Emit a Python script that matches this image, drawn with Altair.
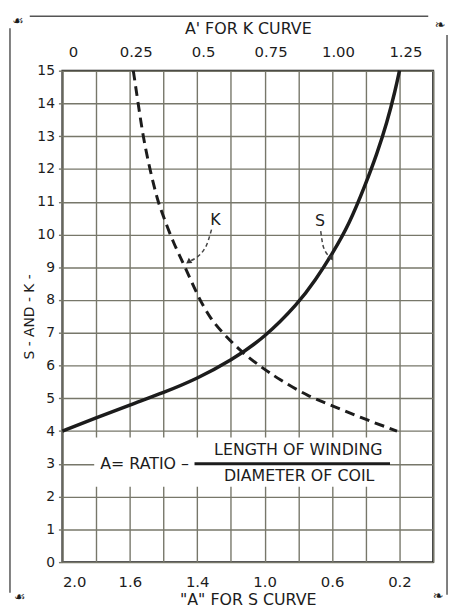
import altair as alt
import pandas as pd

# ---- axes -------------------------------------------------------------
x_max = 1.375                       # right edge of grid (top-axis units)
grid_vals = [0, 0.125, 0.25, 0.375, 0.5, 0.625, 0.75, 0.875, 1.0, 1.125, 1.25, 1.375]
top_ticks = [0, 0.25, 0.5, 0.75, 1.0, 1.25]
top_labels = ["0", "0.25", "0.5", "0.75", "1.00", "1.25"]
bottom_labels = ["2.0", "1.6", "1.4", "1.0", "0.6", "0.2"]
y_ticks = [0, 1, 2, 3, 4, 5, 6, 7, 8, 9, 10, 11, 12, 13, 14, 15]

# ---- S curve (solid) : position on shared grid, value ----------------
s_x = [0, 0.125, 0.25, 0.375, 0.5, 0.625, 0.75, 0.875, 0.938, 1.0, 1.063, 1.125, 1.166, 1.204, 1.235, 1.25]
s_y = [4.0, 4.4, 4.8, 5.17, 5.6, 6.15, 6.85, 7.9, 8.6, 9.4, 10.3, 11.55, 12.45, 13.42, 14.42, 15.0]

# ---- K curve (dashed) : A (top axis), value --------------------------
k_x = [0.263, 0.281, 0.299, 0.324, 0.354, 0.375, 0.411, 0.454, 0.503, 0.551, 0.600, 0.666, 0.738, 0.800, 0.913, 1.010, 1.109, 1.209, 1.241]
k_y = [15.0, 14.0, 13.0, 12.0, 11.0, 10.55, 9.75, 9.03, 8.1, 7.4, 6.95, 6.4, 5.95, 5.6, 5.05, 4.75, 4.4, 4.1, 4.0]

# ---- annotations ------------------------------------------------------
curve_labels = ["K", "S"]
curve_label_x = [0.568, 0.955]
curve_label_y = [10.45, 10.42]
k_arrow_x = [0.553, 0.530, 0.470]
k_arrow_y = [10.15, 9.6, 9.18]
s_arrow_x = [0.958, 0.968, 0.996]
s_arrow_y = [10.1, 9.62, 9.3]
formula_texts = ["LENGTH OF WINDING", "DIAMETER OF COIL", "A= RATIO \u2013"]
formula_x = [0.875, 0.878, 0.305]
formula_y = [3.43, 2.62, 3.0]
fraction_bar = {"x": 0.49, "x2": 1.215, "y": 3.0}
white_box = {"x": 0.118, "x2": 1.215, "y": 2.3, "y2": 3.8}

INK = "#1c1c1c"
FONT = "DejaVu Sans"


def label_expr(vals, labels):
    parts = [f"abs(datum.value - {v}) < 0.001 ? '{l}'" for v, l in zip(vals, labels)]
    return " : ".join(parts) + " : ''"


xscale = alt.Scale(domain=[0, x_max], nice=False, zero=False)
yscale = alt.Scale(domain=[0, 15], nice=False)

s_df = pd.DataFrame({"x": s_x, "y": s_y})
k_df = pd.DataFrame({"x": k_x, "y": k_y})

s_line = alt.Chart(s_df).mark_line(color=INK, strokeWidth=3.5, interpolate="basis").encode(
    x=alt.X("x:Q", scale=xscale, axis=alt.Axis(
        orient="bottom", values=grid_vals, grid=True, ticks=False, domain=False,
        labelExpr=label_expr(top_ticks, bottom_labels), labelPadding=13,
        title='"A" FOR S CURVE', titleY=30)),
    y=alt.Y("y:Q", scale=yscale, axis=alt.Axis(
        values=y_ticks, grid=True, ticks=True, tickSize=4, domain=False,
        labelPadding=4, title="S - AND - K -", titlePadding=0)),
)

k_line = alt.Chart(k_df).mark_line(color=INK, strokeWidth=3, strokeDash=[10, 6], interpolate="basis").encode(
    x=alt.X("x:Q", scale=xscale, axis=alt.Axis(
        orient="top", values=top_ticks, grid=False, ticks=False, tickSize=0, domain=False,
        labelExpr=label_expr(top_ticks, top_labels), labelPadding=11, labelOffset=6,
        title="A' FOR K CURVE", titleY=-35)),
    y=alt.Y("y:Q", scale=yscale, axis=None),
)

box = alt.Chart(pd.DataFrame([white_box])).mark_rect(color="white").encode(
    x=alt.X("x:Q", scale=xscale, axis=None), x2="x2:Q",
    y=alt.Y("y:Q", scale=yscale, axis=None), y2="y2:Q",
)

bar = alt.Chart(pd.DataFrame([fraction_bar])).mark_rule(color=INK, strokeWidth=3).encode(
    x=alt.X("x:Q", scale=xscale, axis=None), x2="x2:Q",
    y=alt.Y("y:Q", scale=yscale, axis=None),
)

formula = alt.Chart(pd.DataFrame({"t": formula_texts, "x": formula_x, "y": formula_y})).mark_text(
    font=FONT, fontSize=16, color=INK).encode(
    x=alt.X("x:Q", scale=xscale, axis=None),
    y=alt.Y("y:Q", scale=yscale, axis=None),
    text="t:N",
)

clabels = alt.Chart(pd.DataFrame({"t": curve_labels, "x": curve_label_x, "y": curve_label_y})).mark_text(
    font=FONT, fontSize=16, color=INK).encode(
    x=alt.X("x:Q", scale=xscale, axis=None),
    y=alt.Y("y:Q", scale=yscale, axis=None),
    text="t:N",
)

k_arrow = alt.Chart(pd.DataFrame({"x": k_arrow_x, "y": k_arrow_y, "o": [0, 1, 2]})).mark_line(
    color="#444", strokeWidth=1.5, strokeDash=[4, 3], interpolate="monotone").encode(
    x=alt.X("x:Q", scale=xscale, axis=None),
    y=alt.Y("y:Q", scale=yscale, axis=None),
    order="o:Q",
)
s_arrow = alt.Chart(pd.DataFrame({"x": s_arrow_x, "y": s_arrow_y, "o": [0, 1, 2]})).mark_line(
    color="#444", strokeWidth=1.5, strokeDash=[4, 3], interpolate="monotone").encode(
    x=alt.X("x:Q", scale=xscale, axis=None),
    y=alt.Y("y:Q", scale=yscale, axis=None),
    order="o:Q",
)
heads = alt.Chart(pd.DataFrame({"x": [k_arrow_x[-1], s_arrow_x[-1]], "y": [k_arrow_y[-1], s_arrow_y[-1]],
                                "a": [235, 150]})).mark_point(
    shape="triangle", filled=True, color="#333", size=40, opacity=1).encode(
    x=alt.X("x:Q", scale=xscale, axis=None),
    y=alt.Y("y:Q", scale=yscale, axis=None),
    angle=alt.Angle("a:Q", scale=None),
)

dummy = pd.DataFrame({"d": [0]})
frame_style = dict(color="#555", strokeWidth=1.5)
frame_left = alt.Chart(dummy).mark_rule(**frame_style).encode(
    x=alt.value(-53), y=alt.value(-43), y2=alt.value(528))
frame_top = alt.Chart(dummy).mark_rule(**frame_style).encode(
    x=alt.value(-33), x2=alt.value(370), y=alt.value(-55))
frame_right = alt.Chart(dummy).mark_rule(**frame_style).encode(
    x=alt.value(389), y=alt.value(-36), y2=alt.value(530))

ornaments = alt.Chart(pd.DataFrame({"t": ["\u2619", "\u2767", "\u2619", "\u2767"],
                                    "px": [-45, 382, -43, 380], "py": [-50, -46, 532, 531]})).mark_text(
    font=FONT, fontSize=13, color=INK).encode(
    x=alt.X("px:Q", scale=None, axis=None),
    y=alt.Y("py:Q", scale=None, axis=None),
    text="t:N",
)

chart = alt.layer(
    s_line, k_line, box, bar, formula, clabels, k_arrow, s_arrow, heads,
    frame_left, frame_top, frame_right, ornaments,
).resolve_axis(x="independent", y="independent").properties(
    width=375, height=497,
    autosize=alt.AutoSizeParams(type="none"),
    padding={"left": 55, "top": 60, "right": 16, "bottom": 43},
    background="white",
).configure_view(
    stroke="#222", strokeWidth=2,
).configure_axis(
    labelFont=FONT, labelColor=INK,
    titleFont=FONT, titleColor=INK, titleFontWeight="normal",
    gridColor="#77776a", gridWidth=1.4, gridOpacity=1,
    tickColor="#77776a", tickWidth=1.4,
).configure_axisX(
    labelFontSize=15, titleFontSize=16,
).configure_axisY(
    labelFontSize=14, titleFontSize=14,
)

chart.save("out.html", embed_options={"renderer": "svg", "actions": False})
